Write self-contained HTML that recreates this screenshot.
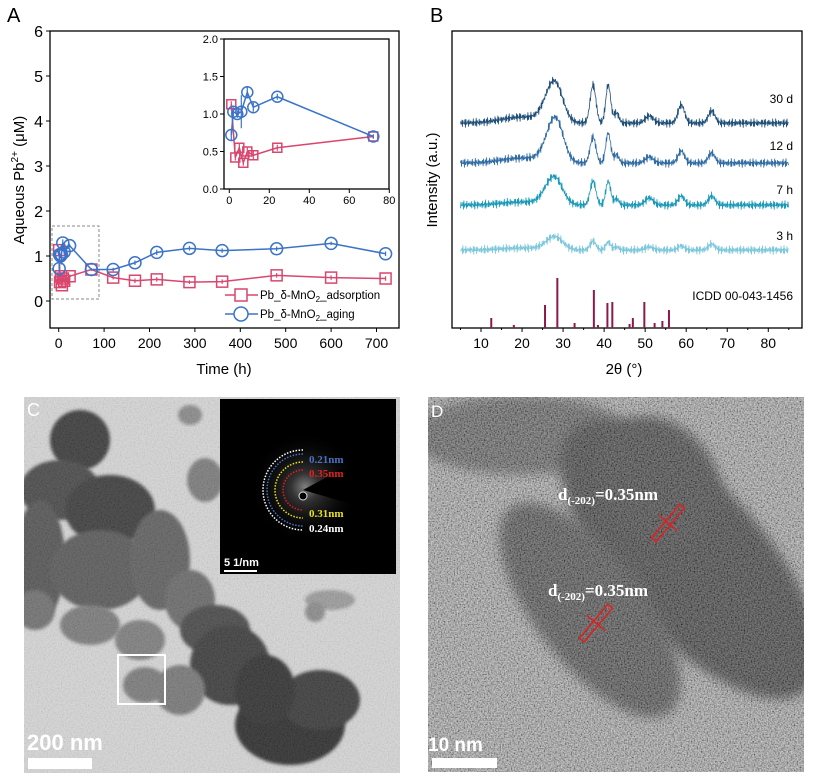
<!DOCTYPE html>
<html><head><meta charset="utf-8"><style>
body{margin:0;background:#fff;width:827px;height:783px;overflow:hidden;font-family:"Liberation Sans",sans-serif}
svg{position:absolute;left:0;top:0}
</style></head><body>
<svg id="fig" width="827" height="783" viewBox="0 0 827 783">
<defs>
<filter id="blur2"><feGaussianBlur stdDeviation="1.5"/></filter>
<filter id="blur6"><feGaussianBlur stdDeviation="6"/></filter>
<filter id="grain" x="0" y="0" width="100%" height="100%"><feTurbulence type="fractalNoise" baseFrequency="0.7" numOctaves="2" seed="3"/><feColorMatrix type="matrix" values="1.6 0 0 0 -0.3 1.6 0 0 0 -0.3 1.6 0 0 0 -0.3 0 0 0 0 1"/></filter>
<radialGradient id="saedGlow"><stop offset="0" stop-color="#fff"/><stop offset="0.25" stop-color="#666"/><stop offset="1" stop-color="#000" stop-opacity="0"/></radialGradient>
<clipPath id="clipC"><rect x="24" y="397" width="376" height="376"/></clipPath>
<clipPath id="clipD"><rect x="428" y="397" width="376" height="375"/></clipPath>
</defs>
<g id="panelA"></g>
<g id="panelB"></g>
<g id="panelC" clip-path="url(#clipC)"></g>
<g id="panelD" clip-path="url(#clipD)"></g>
</svg>
<script>
// ---- Panel A data ----
const timesA = [1,2,4,6,9,12,24,72,120,168,216,288,360,480,600,720];
const agingVals = [0.72,1.03,1.00,1.03,1.29,1.09,1.23,0.70,0.70,0.85,1.08,1.17,1.12,1.16,1.28,1.05];
const agingErr = [0.08,0.06,0.05,0.22,0.08,0.06,0.04,0.03,0.04,0.05,0.06,0.05,0.05,0.05,0.04,0.05];
const adsTimes = [1,3,5,7,9,12,24,72,120,168,216,288,360,480,600,720];
const adsVals = [1.13,0.42,0.55,0.35,0.50,0.45,0.55,0.70,0.52,0.45,0.48,0.42,0.43,0.57,0.52,0.50];
const adsErr = [0.04,0.04,0.05,0.04,0.06,0.05,0.04,0.02,0.04,0.05,0.05,0.04,0.05,0.05,0.05,0.05];
const xTicksA = [0,100,200,300,400,500,600,700];
const yTicksA = [0,1,2,3,4,5,6];
const insetXTicks = [0,20,40,60,80];
const insetYTicks = [0.0,0.5,1.0,1.5,2.0];
// ---- Panel B data ----
const xTicksB = [10,20,30,40,50,60,70,80];
const traceLabels = ["30 d","12 d","7 h","3 h"];
const traceBase = [123,163,205,250];
const traceColors = ["#1f4e79","#2e6aa3","#1a98b8","#7cc7dc"];
const peakPos = [20,27,28.5,37.3,41,43,51,58.8,66.2];
const peakHeights30 = [6,22,22,38,38,10,7,18,12];
const peakHeights12 = [5,18,30,26,30,8,6,12,10];
const peakHeights7 = [3,16,14,24,24,6,7,9,9];
const peakHeights3 = [2,6,8,9,8,3,3,4,6];
const stickPos = [12.5,18,25.6,28.6,32.8,37.5,38.5,40.8,42,46.2,47,49.8,52.3,54.2,55.8];
const stickInt = [20,6,46,100,10,76,6,50,52,8,20,52,10,14,36];

const NS="http://www.w3.org/2000/svg";
function mk(parent,tag,attrs,text){const e=document.createElementNS(NS,tag);for(const k in attrs)e.setAttribute(k,attrs[k]);if(text!==undefined)e.textContent=text;parent.appendChild(e);return e;}

// ===== Panel A =====
const A=document.getElementById('panelA');
const sx=t=>58.7+t*0.454, sy=v=>301-45*v;
let t=mk(A,'text',{x:7,y:22,'font-size':20,fill:'#000'},'A');

let r=mk(A,'rect',{x:50,y:31,width:349,height:297,fill:'none',stroke:'#000','stroke-width':1.3});

yTicksA.forEach(v=>{mk(A,'line',{x1:50,x2:46,y1:sy(v),y2:sy(v),stroke:'#000'});
 const l=mk(A,'text',{x:43,y:sy(v)+6,'font-size':16,'text-anchor':'end'},v);
 });
xTicksA.forEach(v=>{mk(A,'line',{x1:sx(v),x2:sx(v),y1:328,y2:332,stroke:'#000'});
 const l=mk(A,'text',{x:sx(v),y:348,'font-size':14,'text-anchor':'middle'},v);
 });
t=mk(A,'text',{x:224,y:374,'font-size':15,'text-anchor':'middle'},'Time (h)');

t=mk(A,'text',{transform:'translate(24,180) rotate(-90)','font-size':15,'text-anchor':'middle'});
t.innerHTML='Aqueous Pb<tspan dy="-6" font-size="10">2+</tspan><tspan dy="6"> (μM)</tspan>';

r=mk(A,'rect',{x:52,y:226,width:47,height:73,fill:'none',stroke:'#888','stroke-dasharray':'3,2'});

function series(g,xs,vs,es,fx,fy,col,shape,sz){
 mk(g,'polyline',{points:xs.map((x,i)=>fx(x)+','+fy(vs[i])).join(' '),fill:'none',stroke:col,'stroke-width':1.5});
 xs.forEach((x,i)=>{const cx=fx(x),cy=fy(vs[i]);
  let m;
  if(shape==='c') m=mk(g,'circle',{cx:cx,cy:cy,r:sz,fill:'none',stroke:col,'stroke-width':1.5});
  else m=mk(g,'rect',{x:cx-sz,y:cy-sz,width:2*sz,height:2*sz,fill:'none',stroke:col,'stroke-width':1.5});
  
  mk(g,'line',{x1:cx,x2:cx,y1:fy(vs[i]-es[i]),y2:fy(vs[i]+es[i]),stroke:col,'stroke-width':1.2});
 });
}
series(A,adsTimes,adsVals,adsErr,sx,sy,'#d9466e','s',5.5);
series(A,timesA,agingVals,agingErr,sx,sy,'#3b73c9','c',6);
// legend
let lg=mk(A,'g',{});
mk(lg,'line',{x1:225,x2:258,y1:295,y2:295,stroke:'#d9466e','stroke-width':1.5});
mk(lg,'rect',{x:235,y:289,width:12,height:12,fill:'#fff',stroke:'#d9466e','stroke-width':1.5});
t=mk(lg,'text',{x:260,y:299,'font-size':11.5});t.innerHTML='Pb_δ-MnO<tspan dy="3" font-size="8">2</tspan><tspan dy="-3">_adsorption</tspan>';

mk(lg,'line',{x1:225,x2:258,y1:314,y2:314,stroke:'#3b73c9','stroke-width':1.5});
mk(lg,'circle',{cx:241,cy:314,r:7,fill:'#fff',stroke:'#3b73c9','stroke-width':1.5});
t=mk(lg,'text',{x:260,y:318,'font-size':11.5});t.innerHTML='Pb_δ-MnO<tspan dy="3" font-size="8">2</tspan><tspan dy="-3">_aging</tspan>';

// inset
const ix=v=>229.3+2*v, iy=v=>189-75*v;
let ig=mk(A,'g',{});
mk(ig,'rect',{x:224,y:39,width:165,height:150,fill:'#fff',stroke:'#000','stroke-width':1.3});
insetYTicks.forEach(v=>{mk(ig,'line',{x1:224,x2:220,y1:iy(v),y2:iy(v),stroke:'#000'});
 const l=mk(ig,'text',{x:218,y:iy(v)+4,'font-size':11,'text-anchor':'end'},v.toFixed(1));
 });
insetXTicks.forEach(v=>{mk(ig,'line',{x1:ix(v),x2:ix(v),y1:189,y2:193,stroke:'#000'});
 const l=mk(ig,'text',{x:ix(v),y:204,'font-size':11,'text-anchor':'middle'},v);
 });
const insetN=8;
series(ig,adsTimes.slice(0,insetN),adsVals.slice(0,insetN),adsErr.slice(0,insetN),ix,iy,'#d9466e','s',4.5);
series(ig,timesA.slice(0,insetN),agingVals.slice(0,insetN),agingErr.slice(0,insetN),ix,iy,'#3b73c9','c',5.5);

// ===== Panel B =====
const B=document.getElementById('panelB');
const bx=v=>481+(v-10)*4.104;
t=mk(B,'text',{x:430,y:22,'font-size':20},'B');
r=mk(B,'rect',{x:452,y:31,width:350,height:297,fill:'none',stroke:'#000','stroke-width':1.3});

for(let v=5;v<=85;v+=5){mk(B,'line',{x1:bx(v),x2:bx(v),y1:328,y2:v%10===0?332:330,stroke:'#000'});}
xTicksB.forEach(v=>{const l=mk(B,'text',{x:bx(v),y:348,'font-size':14,'text-anchor':'middle'},v);
 });
t=mk(B,'text',{x:624,y:374,'font-size':15,'text-anchor':'middle'},'2θ (°)');
t=mk(B,'text',{transform:'translate(437,180) rotate(-90)','font-size':15,'text-anchor':'middle'},'Intensity (a.u.)');
const allH=[peakHeights30,peakHeights12,peakHeights7,peakHeights3];
const widths=[5,2.0,1.8,0.7,0.6,0.6,1.0,0.8,0.8];
allH.forEach((hs,k)=>{
 let pts=[],n=0;
 for(let a=5;a<=85;a+=0.12){let y=0;peakPos.forEach((p,i)=>{y+=hs[i]*Math.exp(-((a-p)**2)/(2*widths[i]**2));});
  n++;const jit=4.5*Math.sin(n*12.9898+k*7.1)*Math.cos(n*3.71+k); // visual texture only
  pts.push(bx(a).toFixed(1)+','+(traceBase[k]-y+jit).toFixed(1));}
 const pl=mk(B,'polyline',{points:pts.join(' '),fill:'none',stroke:traceColors[k],'stroke-width':0.8,'stroke-linejoin':'round'});
 
 const l=mk(B,'text',{x:793,y:[103,150,194,240][k],'font-size':12,'text-anchor':'end'},traceLabels[k]);
 
});
stickPos.forEach((p,i)=>{const s=mk(B,'line',{x1:bx(p),x2:bx(p),y1:328,y2:328-stickInt[i]*0.5,stroke:'#8b1a4a','stroke-width':2});
 });
t=mk(B,'text',{x:793,y:300,'font-size':12,'text-anchor':'end'},'ICDD 00-043-1456');

// ===== Panel C (TEM) =====
const C=document.getElementById('panelC');
mk(C,'rect',{x:24,y:397,width:376,height:376,fill:'#d4d4d4'});
const blobsC=[[80,440,30,30,'#3a3a3a'],[60,490,40,30,'#4a4a4a'],[110,510,45,35,'#3e3e3e'],[40,560,25,60,'#555'],[100,570,50,40,'#5a5a5a'],[160,560,30,50,'#606060'],[190,600,25,30,'#6a6a6a'],[205,480,18,22,'#7a7a7a'],[190,415,12,10,'#888'],[35,610,20,20,'#707070'],[90,625,30,20,'#7a7a7a'],[140,640,25,20,'#7d7d7d'],[215,630,35,25,'#4a4a4a'],[230,665,40,40,'#3c3c3c'],[180,690,25,25,'#777'],[145,685,22,18,'#7a7a7a'],[290,725,55,40,'#2e2e2e'],[320,700,40,30,'#3a3a3a'],[330,600,25,10,'#9a9a9a'],[315,612,10,10,'#8a8a8a'],[265,690,30,35,'#333']];
blobsC.forEach(b=>{const e=mk(C,'ellipse',{cx:b[0],cy:b[1],rx:b[2],ry:b[3],fill:b[4],filter:'url(#blur2)'});
 });
mk(C,'rect',{x:24,y:397,width:376,height:376,filter:'url(#grain)',opacity:0.12});
r=mk(C,'rect',{x:118,y:655,width:47,height:49,fill:'none',stroke:'#fff','stroke-width':2});

t=mk(C,'text',{x:27,y:416,'font-size':18,fill:'#fff'},'C');
t=mk(C,'text',{x:27,y:750,'font-size':22,'font-weight':'bold',fill:'#fff'},'200 nm');
r=mk(C,'rect',{x:28,y:758,width:64,height:11,fill:'#fff'});
// SAED inset
let sg=mk(C,'g',{});
mk(sg,'rect',{x:220,y:399,width:176,height:175,fill:'#000'});
mk(sg,'circle',{cx:305,cy:487,r:55,fill:'url(#saedGlow)',opacity:0.5});
mk(sg,'path',{d:'M303,490 L340,470 L396,468 L396,518 L355,505 Z',fill:'#000'});
mk(sg,'circle',{cx:303,cy:496,r:4,fill:'#000',stroke:'#ddd','stroke-width':1});
[[40,'#fff'],[36,'#4a72c0'],[28,'#e8e020'],[20,'#e02020']].forEach(c=>{
 const rr=c[0];mk(sg,'path',{d:`M${303},${490-rr} A${rr},${rr} 0 0 0 ${303},${490+rr}`,fill:'none',stroke:c[1],'stroke-width':1.5,'stroke-dasharray':'1.5,1.5'});});
[['0.21nm',309,463,'#4a72c0'],['0.35nm',309,477,'#e02020'],['0.31nm',309,517,'#e8e020'],['0.24nm',309,532,'#fff']].forEach(a=>{
 const l=mk(sg,'text',{x:a[1],y:a[2],'font-size':11,'font-weight':'bold','font-family':'Liberation Serif',fill:a[3]},a[0]);
 });
t=mk(sg,'text',{x:224,y:566,'font-size':11,'font-weight':'bold',fill:'#fff'},'5 1/nm');
mk(sg,'rect',{x:224,y:570,width:33,height:2,fill:'#fff'});

// ===== Panel D (HRTEM) =====
const D=document.getElementById('panelD');
mk(D,'rect',{x:428,y:397,width:376,height:375,fill:'#8a8a8a'});
mk(D,'ellipse',{cx:520,cy:435,rx:110,ry:40,fill:'#555',filter:'url(#blur6)'});
const dBlobs=[[690,560,75,175,-42,'#3a3a3a'],[590,610,55,130,-38,'#464646'],[660,480,55,70,-40,'#3e3e3e']];
dBlobs.forEach(b=>{const e=mk(D,'ellipse',{cx:b[0],cy:b[1],rx:b[2],ry:b[3],transform:`rotate(${b[4]} ${b[0]} ${b[1]})`,fill:b[5],filter:'url(#blur6)'});
 });
mk(D,'rect',{x:428,y:397,width:376,height:375,filter:'url(#grain)',opacity:0.45,style:'mix-blend-mode:overlay'});
mk(D,'rect',{x:428,y:397,width:376,height:375,filter:'url(#grain)',opacity:0.25});
[[668,523],[596,623]].forEach(p=>{const g=mk(D,'g',{transform:`rotate(-50 ${p[0]} ${p[1]})`});
 
 mk(g,'rect',{x:p[0]-22,y:p[1]-3,width:44,height:6,fill:'none',stroke:'#e02020','stroke-width':1.5});
 mk(g,'line',{x1:p[0],x2:p[0],y1:p[1]-12,y2:p[1]+12,stroke:'#e02020','stroke-width':1.5});});
[['d',558,500],['d',548,596]].forEach((a,i)=>{
 const l=mk(D,'text',{x:a[1],y:a[2],'font-size':17,'font-weight':'bold','font-family':'Liberation Serif',fill:'#fff'});
 l.innerHTML='d<tspan dy="4" font-size="11">(-202)</tspan><tspan dy="-4">=0.35nm</tspan>';
 });
t=mk(D,'text',{x:431,y:417,'font-size':17,fill:'#fff'},'D');
t=mk(D,'text',{x:428,y:751,'font-size':19,'font-weight':'bold',fill:'#fff'},'10 nm');
r=mk(D,'rect',{x:432,y:758,width:65,height:10,fill:'#fff'});
</script>
</body></html>
